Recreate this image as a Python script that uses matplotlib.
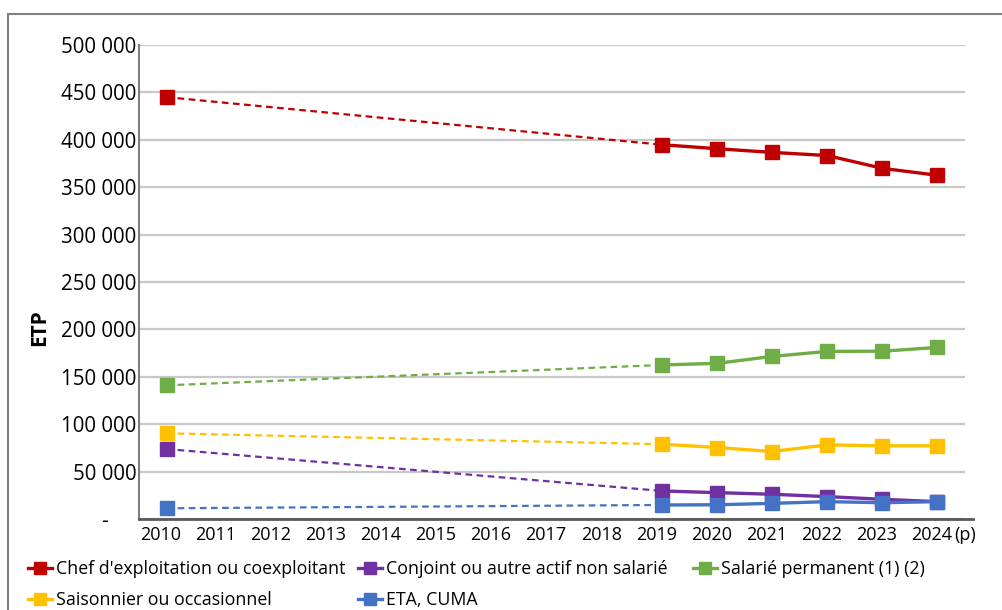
import matplotlib.pyplot as plt
from matplotlib.patches import Rectangle
from matplotlib.transforms import ScaledTranslation

plt.rcParams['font.family'] = ['Open Sans', 'DejaVu Sans']

years = [2010, 2019, 2020, 2021, 2022, 2023, 2024]
tick_years = list(range(2010, 2025))
yticks = list(range(0, 500001, 50000))

chef = [445000, 394800, 390600, 386700, 383400, 369900, 362600]
conjoint = [73800, 29600, 27800, 26100, 23600, 20800, 18300]
salarie = [141000, 162500, 164200, 171500, 176800, 177000, 181000]
saisonnier = [90400, 78900, 75400, 71200, 78200, 77200, 77200]
eta = [11300, 14800, 15000, 16500, 18300, 17200, 18300]

series = [
    ("Chef d'exploitation ou coexploitant", chef, '#C00000'),
    ("Conjoint ou autre actif non salarié", conjoint, '#7030A0'),
    ("Salarié permanent (1) (2)", salarie, '#70AD47'),
    ("Saisonnier ou occasionnel", saisonnier, '#FFC000'),
    ("ETA, CUMA", eta, '#4472C4'),
]

fig = plt.figure(figsize=(10.03, 6.10), dpi=100)
ax = fig.add_axes([139 / 1003, 1 - 519 / 610, (965 - 139) / 1003, (519 - 45) / 610])

# cadre gris autour de la figure
fig.patches.append(Rectangle((8 / 1003, -0.1), 1.2, 1.1 - 14 / 610, transform=fig.transFigure,
                             fill=False, edgecolor='#7f7f7f', linewidth=1.5))

handles = {}
for name, vals, col in series:
    # pointillés entre 2010 et 2019 (pas de données intermédiaires)
    ax.plot(years[:2], vals[:2], linestyle=(0, (3, 2)), linewidth=1.6, color=col, zorder=3)
    h, = ax.plot(years[1:], vals[1:], linestyle='-', linewidth=2.4, color=col,
                 marker='s', markersize=10, zorder=4)
    ax.plot(years[0], vals[0], marker='s', markersize=10, color=col, linestyle='none', zorder=4)
    handles[name] = h

ax.set_xlim(2009.5, 2024.5)
ax.set_ylim(0, 500000)
ax.set_xticks(tick_years)
ax.set_xticklabels([str(y) for y in tick_years], fontsize=13)
ax.set_yticks(yticks)
ax.set_yticklabels(['-'] + ['{:,}'.format(v).replace(',', ' ') for v in yticks[1:]], fontsize=14.8)
ax.tick_params(axis='x', length=0, pad=5)
ax.tick_params(axis='y', length=0, pad=2)

ax.grid(axis='y', color='#c8c8c8', linewidth=1.6)
ax.set_axisbelow(True)
for s in ['top', 'right']:
    ax.spines[s].set_visible(False)
ax.spines['left'].set_color('#7f7f7f')
ax.spines['left'].set_linewidth(1.5)
ax.spines['bottom'].set_color('#595959')
ax.spines['bottom'].set_linewidth(2)
ax.spines['bottom'].set_bounds(2009.5, 2024.65)

# les années sont légèrement décalées vers la gauche dans l'original
shift = ScaledTranslation(-0.06, 0, fig.dpi_scale_trans)
for t in ax.get_xticklabels():
    t.set_transform(t.get_transform() + shift)

# le "-" du zéro est décalé vers la gauche
lbl = ax.get_yticklabels()[0]
lbl.set_transform(lbl.get_transform() + ScaledTranslation(-0.28, 0, fig.dpi_scale_trans))

ax.annotate('(p)', xy=(2024.3, 0), xycoords=ax.get_xaxis_transform(),
            xytext=(0, -5), textcoords='offset points', fontsize=13, ha='left', va='top')

fig.text(40 / 1003, 1 - 328 / 610, 'ETP', rotation=90, fontsize=15, fontweight='bold',
         ha='center', va='center')

columns = [
    (28, ["Chef d'exploitation ou coexploitant", "Saisonnier ou occasionnel"]),
    (358, ["Conjoint ou autre actif non salarié", "ETA, CUMA"]),
    (693, ["Salarié permanent (1) (2)"]),
]
for x0, names in columns:
    fig.legend([handles[n] for n in names], names, loc='upper left',
               bbox_to_anchor=(x0 / 1003, 1 - 560 / 610), ncol=1, frameon=False,
               fontsize=12.8, handlelength=1.35, handletextpad=0.2,
               borderpad=0, borderaxespad=0, labelspacing=0.75, markerscale=0.85)

fig.savefig('out.png', dpi=100)
